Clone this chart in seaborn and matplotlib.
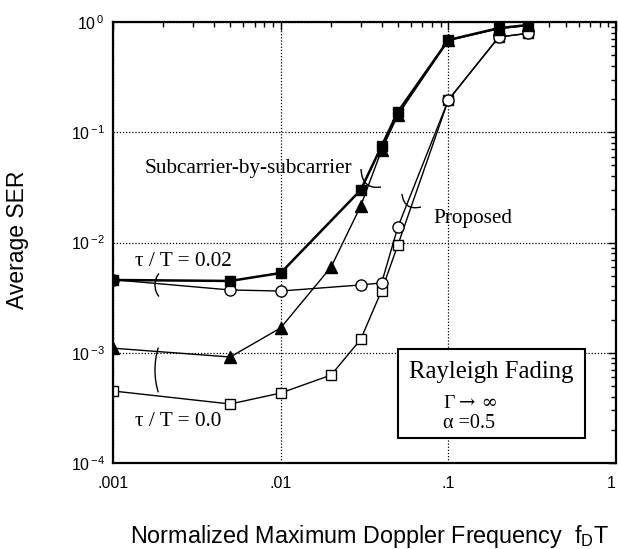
import matplotlib
matplotlib.use("Agg")
import matplotlib.pyplot as plt
import seaborn as sns
import numpy as np
import pandas as pd
from matplotlib.patches import Rectangle, PathPatch, Arc
from matplotlib.path import Path

# ---------------- data ----------------
fd_sub_002 = [0.001, 0.005, 0.01, 0.03, 0.04, 0.05, 0.1, 0.2, 0.3]
ser_sub_002 = [0.00457, 0.00448, 0.00529, 0.0299, 0.075, 0.153, 0.687, 0.88, 0.94]

fd_sub_00 = [0.001, 0.005, 0.01, 0.02, 0.03, 0.04, 0.05, 0.1, 0.2, 0.3]
ser_sub_00 = [0.0011, 0.000915, 0.00168, 0.006, 0.0214, 0.069, 0.143, 0.68, 0.87, 0.93]

fd_prop_002 = [0.001, 0.005, 0.01, 0.03, 0.04, 0.05, 0.1, 0.2, 0.3]
ser_prop_002 = [0.0046, 0.00371, 0.00363, 0.00412, 0.0043, 0.0138, 0.196, 0.73, 0.79]

fd_prop_00 = [0.001, 0.005, 0.01, 0.02, 0.03, 0.04, 0.05, 0.1, 0.2, 0.3]
ser_prop_00 = [0.00045, 0.000343, 0.000431, 0.000628, 0.00132, 0.00366, 0.0095, 0.196, 0.73, 0.79]

xtick_vals = [0.001, 0.01, 0.1, 1]
xtick_labels = [".001", ".01", ".1", "1"]
ytick_vals = [1e-4, 1e-3, 1e-2, 1e-1, 1]
ytick_labels = [r"10$^{\,\mathregular{-4}}$", r"10$^{\,\mathregular{-3}}$",
                r"10$^{\,\mathregular{-2}}$", r"10$^{\,\mathregular{-1}}$",
                r"10$^{\,\mathregular{0}}$"]

# ---------------- style ----------------
sns.set_theme(style="white")
plt.rcParams["font.family"] = ["Liberation Sans", "DejaVu Sans"]
plt.rcParams["mathtext.fontset"] = "custom"
plt.rcParams["mathtext.rm"] = "Liberation Sans"
plt.rcParams["mathtext.it"] = "Liberation Sans:italic"

W, H = 618, 549
fig = plt.figure(figsize=(W / 100, H / 100), dpi=100)
ax = fig.add_axes([113 / W, 1 - 463 / H, (616 - 113) / W, (463 - 22) / H])
ax.set_xscale("log")
ax.set_yscale("log")

series = [
    (fd_prop_00, ser_prop_00, "s", "white", 1.0, 7),
    (fd_prop_002, ser_prop_002, "o", "white", 1.0, 8),
    (fd_sub_00, ser_sub_00, "^", "black", 1.0, 8),
    (fd_sub_002, ser_sub_002, "s", "black", 1.8, 6.5),
]
for xs, ys, mk, fc, lw, ms in series:
    sns.lineplot(x=xs, y=ys, ax=ax, color="black", marker=mk, markersize=ms,
                 markerfacecolor=fc, markeredgecolor="black", markeredgewidth=1.0,
                 linewidth=lw, estimator=None, sort=False, legend=False)

ax.set_xlim(1e-3, 1)
ax.set_ylim(1e-4, 1)
ax.set_xticks(xtick_vals)
ax.set_xticklabels(xtick_labels)
ax.set_yticks(ytick_vals)
ax.set_yticklabels(ytick_labels)
ax.tick_params(which="both", direction="in", top=True, right=True, colors="black",
               labelsize=11.5)
ax.tick_params(which="major", length=6, width=1.0)
ax.tick_params(which="minor", length=3.5, width=1.0)
ax.tick_params(axis="x", pad=9)
ax.tick_params(axis="y", pad=6)
ax.get_xticklabels()[-1].set_horizontalalignment("right")
ax.grid(True, which="major", color="black", linestyle=(0, (1, 1.5)), linewidth=0.9)
ax.grid(False, which="minor")
for s in ax.spines.values():
    s.set_color("black")
    s.set_linewidth(1.6)
ax.set_xlabel("")
ax.set_ylabel("")

def fp(x, y):
    return (x / W, 1 - y / H)

serif = ["Liberation Serif", "DejaVu Serif"]

fig.text(*fp(18, 240), "Average SER", rotation=90, ha="center", va="center",
         fontsize=16.5, color="black")
fig.text(*fp(130, 536), r"Normalized Maximum Doppler Frequency  f$_{\mathregular{D}}$T",
         ha="left", va="center", fontsize=16.8, color="black")

fig.text(*fp(145, 169), "Subcarrier-by-subcarrier", ha="left", va="center",
         fontsize=15.3, family=serif, color="black")
fig.text(*fp(433, 218), "Proposed", ha="left", va="center",
         fontsize=15.3, family=serif, color="black")
fig.text(*fp(135, 262), "τ / T = 0.02", ha="left", va="center",
         fontsize=15.3, family=serif, color="black")
fig.text(*fp(135, 422), "τ / T = 0.0", ha="left", va="center",
         fontsize=15.3, family=serif, color="black")

# box
bx0, by0, bx1, by1 = 398, 349, 585, 438
fig.add_artist(Rectangle(fp(bx0, by1), (bx1 - bx0) / W, (by1 - by0) / H,
                         transform=fig.transFigure, facecolor="white",
                         edgecolor="black", linewidth=1.5, zorder=5))
fig.text(*fp(491, 372), "Rayleigh Fading", ha="center", va="center",
         fontsize=17.8, family=serif, color="black", zorder=6)
fig.text(*fp(443, 403), "Γ", ha="left", va="center",
         fontsize=14, family=serif, color="black", zorder=6)
fig.text(*fp(459, 403), "→ ∞", ha="left", va="center",
         fontsize=14, family=["DejaVu Serif"], color="black", zorder=6)
fig.text(*fp(443, 423), "α =0.5", ha="left", va="center",
         fontsize=14.5, family=serif, color="black", zorder=6)

# bracket arcs (in pixel units via dpi_scale_trans)
tr = fig.dpi_scale_trans
def arc(cx, cy, w, h, t1, t2):
    fig.add_artist(Arc((cx / 100, (H - cy) / 100), w / 100, h / 100,
                       theta1=t1, theta2=t2, transform=tr, color="black", linewidth=1.0))

arc(174, 370, 38, 79, 125, 235)
arc(167, 285, 24, 31, 125, 235)

def curve(p0, c, p1):
    verts = [(p0[0] / 100, (H - p0[1]) / 100), (c[0] / 100, (H - c[1]) / 100),
             (p1[0] / 100, (H - p1[1]) / 100)]
    path = Path(verts, [Path.MOVETO, Path.CURVE3, Path.CURVE3])
    fig.add_artist(PathPatch(path, transform=tr, facecolor="none",
                             edgecolor="black", linewidth=1.0))

curve((361, 169), (362, 190), (381, 187))
curve((402, 194), (404, 211), (421, 207))

fig.savefig("out.png", dpi=100, facecolor="white")
